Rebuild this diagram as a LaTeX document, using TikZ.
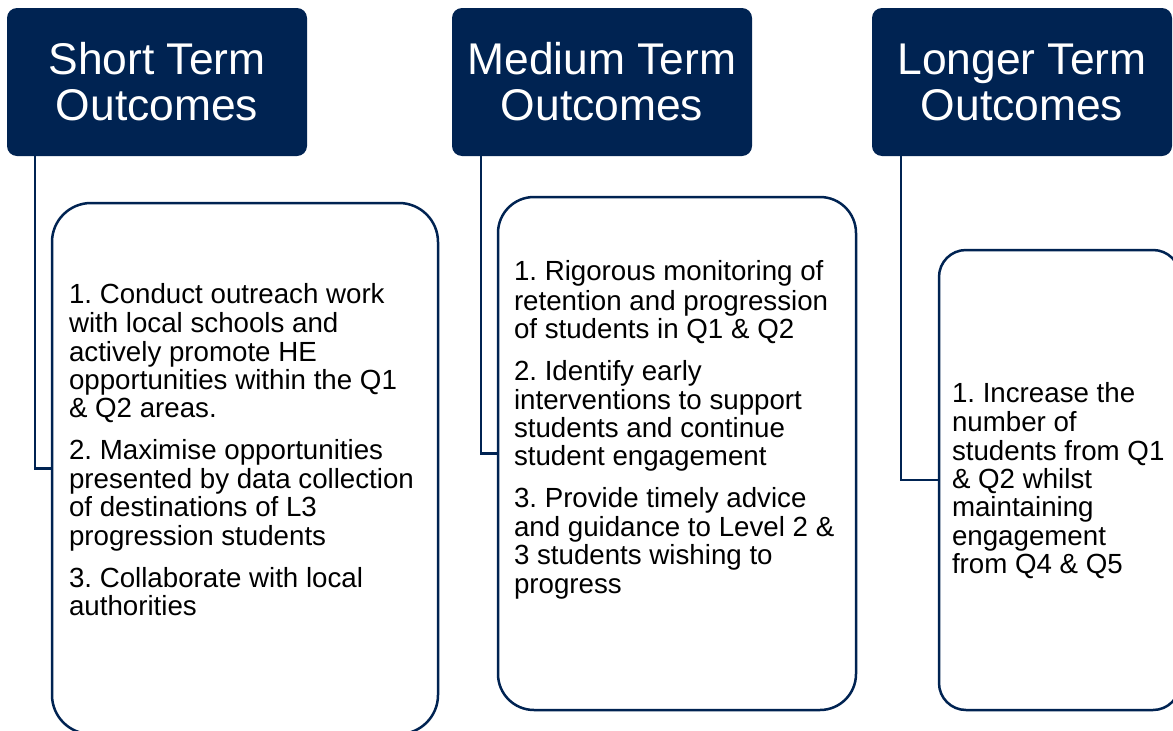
\documentclass[tikz,border=0pt]{standalone}
\usepackage{fontspec}
\setmainfont{Liberation Sans}
\definecolor{navy}{RGB}{0,35,82}
\frenchspacing
\begin{document}
\begin{tikzpicture}[x=1pt,y=-1pt,
  header/.style={rectangle, fill=navy, rounded corners=10pt, inner sep=0pt, outer sep=0pt,
    minimum width=300pt, minimum height=148pt, text=white, align=center,
    font=\fontsize{44.4}{46}\selectfont},
  bodybox/.style={rectangle, draw=navy, line width=2.5pt, fill=white, inner sep=0pt, outer sep=0pt},
  bodytext/.style={anchor=north west, inner sep=0pt, outer sep=0pt, align=left, text=black,
    font=\fontsize{27.7}{28.4}\selectfont},
  conn/.style={draw=navy, line width=2.5pt}
]
\useasboundingbox (0,0) rectangle (1173,731);
\fill[white] (0,0) rectangle (1173,731);

\node[header] (h1) at (157,82) {Short Term\\Outcomes};
\node[header] (h2) at (602,82) {Medium Term\\Outcomes};
\node[header] (h3) at (1022,82) {Longer Term\\Outcomes};

\draw[conn] (h1.south west) ++(28,0) |- (245,468.5);
\draw[conn] (h2.south west) ++(29,0) |- (677,453.5);
\draw[conn] (h3.south west) ++(29,0) |- (1059.5,480);

\node[bodybox, rounded corners=39pt, minimum width=386pt, minimum height=531pt] (b1) at (245,468.5) {};
\node[bodybox, rounded corners=36pt, minimum width=358pt, minimum height=513pt] (b2) at (677,453.5) {};
\node[bodybox, rounded corners=27pt, minimum width=241pt, minimum height=460pt] (b3) at (1059.5,480) {};

\node[bodytext] (t1) at (69,283.1) {\strut 1. Conduct outreach work\\with local schools and\\actively promote HE\\opportunities within the Q1\\\& Q2 areas.\\[13.6pt]2. Maximise opportunities\\presented by data collection\\of destinations of L3\\progression students\\[13.6pt]3. Collaborate with local\\authorities};
\node[bodytext] (t2) at (514,260.6) {\strut 1. Rigorous monitoring of\\retention and progression\\of students in Q1 \& Q2\\[13.6pt]2. Identify early\\interventions to support\\students and continue\\student engagement\\[13.6pt]3. Provide timely advice\\and guidance to Level 2 \&\\3 students wishing to\\progress};
\node[bodytext] (t3) at (952,382.1) {\strut 1. Increase the\\number of\\students from Q1\\\& Q2 whilst\\maintaining\\engagement\\from Q4 \& Q5};
\end{tikzpicture}
\end{document}
